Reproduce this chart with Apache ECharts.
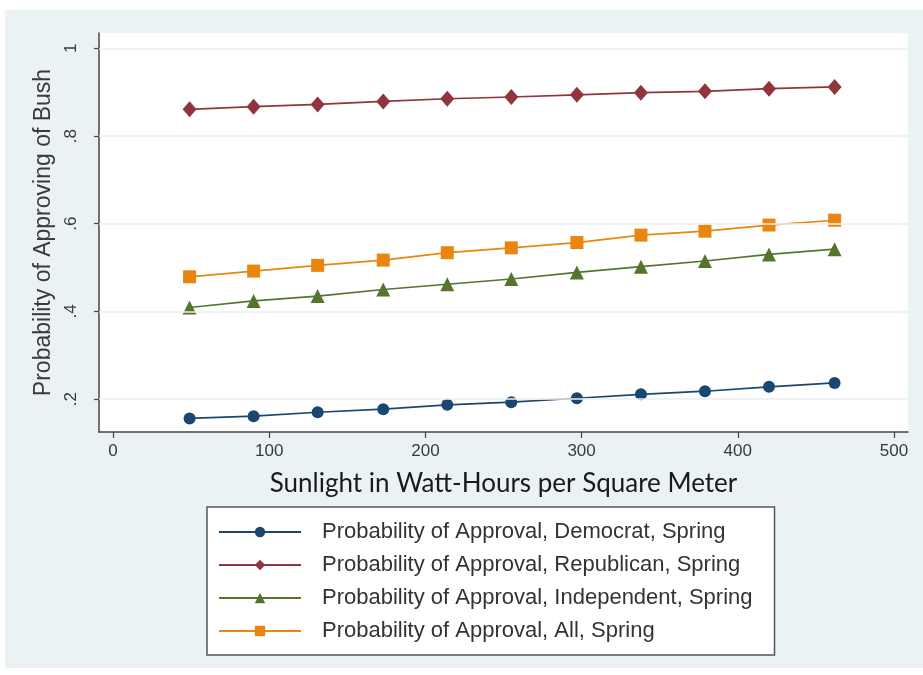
<!DOCTYPE html>
<html>
<head>
<meta charset="utf-8">
<script src="https://cdn.jsdelivr.net/npm/echarts@6/dist/echarts.min.js"></script>
<style>
  html, body { margin: 0; padding: 0; background: #ffffff; }
  #wrap { position: relative; width: 923px; height: 675px; background: #ffffff; overflow: hidden; }
  #chart { position: absolute; left: 5px; top: 10px; width: 918px; height: 658px; }
</style>
</head>
<body>
<div id="wrap"><div id="chart"></div></div>
<script>
// Sunlight (Watt-hours per square meter) at which each probability is evaluated
const sunlight = [49, 90, 131, 173, 214, 255, 297, 338, 379, 420, 462];

// Predicted probability of approving of Bush, Spring
const democrat    = [0.156, 0.161, 0.170, 0.177, 0.187, 0.193, 0.202, 0.211, 0.218, 0.228, 0.237];
const republican  = [0.861, 0.867, 0.872, 0.879, 0.885, 0.889, 0.894, 0.899, 0.902, 0.908, 0.912];
const independent = [0.409, 0.424, 0.435, 0.450, 0.462, 0.474, 0.489, 0.502, 0.515, 0.530, 0.542];
const allVoters   = [0.479, 0.492, 0.505, 0.517, 0.534, 0.545, 0.557, 0.574, 0.583, 0.597, 0.608];

const seriesNames = [
  'Probability of Approval, Democrat, Spring',
  'Probability of Approval, Republican, Spring',
  'Probability of Approval, Independent, Spring',
  'Probability of Approval, All, Spring'
];

const xTicks = [0, 100, 200, 300, 400, 500];
const yTicks = [0.2, 0.4, 0.6, 0.8, 1];

const xTitle = 'Sunlight in Watt-Hours per Square Meter';
const yTitle = 'Probability of Approving of Bush';

const pairs = ys => sunlight.map((x, i) => [x, ys[i]]);

const chart = echarts.init(document.getElementById('chart'), null, { renderer: 'canvas' });

function lineSeries(name, ys, color, symbol, size) {
  return {
    name: name,
    type: 'line',
    data: pairs(ys),
    symbol: symbol,
    symbolSize: size,
    showAllSymbol: true,
    itemStyle: { color: color, borderWidth: 0 },
    lineStyle: { color: color, width: 1.7 },
    emphasis: { disabled: true },
    z: 3
  };
}

const yFmt = v => {
  const s = String(+v.toFixed(2));
  return s.startsWith('0.') ? s.slice(1) : s;
};

chart.setOption({
  backgroundColor: '#eaf2f3',
  animation: false,
  grid: {
    left: 94, top: 23, right: 15, bottom: 236,
    show: true, backgroundColor: '#ffffff', borderWidth: 0,
    containLabel: false
  },
  xAxis: {
    type: 'value',
    min: -9, max: 509,
    name: xTitle,
    nameLocation: 'middle',
    nameGap: 39,
    nameTextStyle: { fontFamily: 'Lato', fontSize: 26, color: '#1a1a1a' },
    axisLine: { show: true, onZero: false, lineStyle: { color: '#444', width: 1.5 } },
    axisTick: { show: true, length: 6, customValues: xTicks, lineStyle: { color: '#444', width: 1.2 } },
    axisLabel: { customValues: xTicks, margin: 11, fontFamily: 'Liberation Sans', fontSize: 17, color: '#3a3a3a' },
    splitLine: { show: false }
  },
  yAxis: {
    type: 'value',
    min: 0.125, max: 1.035,
    name: yTitle,
    nameLocation: 'middle',
    nameGap: 42,
    nameRotate: 90,
    nameTextStyle: { fontFamily: 'Liberation Sans', fontSize: 23, color: '#3a3a3a' },
    axisLine: { show: true, onZero: false, lineStyle: { color: '#444', width: 1.5 } },
    axisTick: { show: true, length: 5, customValues: yTicks, lineStyle: { color: '#444', width: 1.2 } },
    axisLabel: { customValues: yTicks, rotate: 90, margin: 19, formatter: yFmt,
                 fontFamily: 'Liberation Sans', fontSize: 17, color: '#3a3a3a' },
    splitLine: { show: false }
  },
  legend: {
    data: seriesNames,
    orient: 'vertical',
    left: 202, top: 497,
    padding: [14, 22, 13, 11],
    backgroundColor: '#ffffff',
    borderColor: '#555',
    borderWidth: 1.5,
    borderRadius: 0,
    itemWidth: 82,
    itemHeight: 13,
    itemGap: 11,
    textStyle: { fontFamily: 'Liberation Sans', fontSize: 22, color: '#333', padding: [0, 0, 0, 16], lineHeight: 21 },
    selectedMode: false
  },
  series: [
    {
      name: 'grid',
      type: 'line',
      data: [],
      silent: true,
      z: 1,
      markLine: {
        silent: true,
        symbol: 'none',
        label: { show: false },
        lineStyle: { color: '#eaeff1', width: 1.5, type: 'solid' },
        data: yTicks.map(v => ({ yAxis: v }))
      }
    },
    lineSeries(seriesNames[0], democrat,    '#1a476f', 'circle',   12),
    lineSeries(seriesNames[1], republican,  '#90353b', 'diamond',  [14, 16]),
    lineSeries(seriesNames[2], independent, '#55752f', 'triangle', 14),
    lineSeries(seriesNames[3], allVoters,   '#e8860f', 'rect',     13)
  ]
});
</script>
</body>
</html>
